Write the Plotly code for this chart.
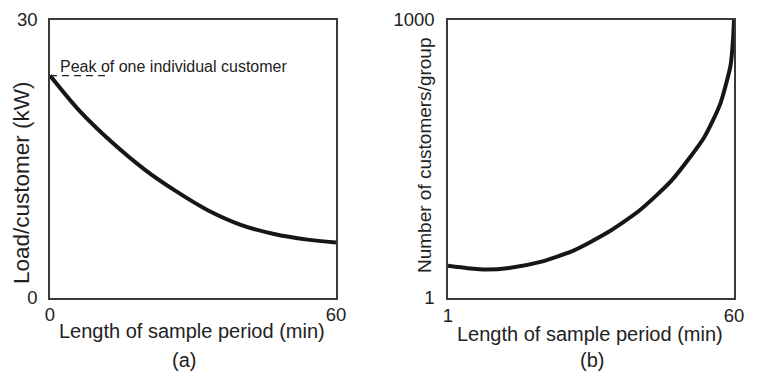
import plotly.graph_objects as go

W, H = 772, 388

# ---- data ----
# (a) Load per customer vs. sample period length
period_a = [0, 6, 13, 20, 26.5, 33, 40, 47, 54, 60]
load_a = [24.0, 20.3, 16.8, 13.8, 11.5, 9.5, 7.9, 6.9, 6.3, 6.0]
peak_individual = 24.0
peak_dash_x = [0, 12]

# (b) Number of customers per group vs. sample period length (log y)
period_b = [1, 5, 9, 13.6, 20.3, 27, 33.8, 40.5, 47.2, 53.9, 57.2, 59.3, 59.8, 60]
customers_b = [2.23, 2.1, 2.03, 2.11, 2.47, 3.27, 5.05, 8.8, 18.7, 54.7, 126, 326, 617, 1000]

xticks_a = [0, 60]
yticks_a = [0, 30]
xticks_b = [1, 60]
yticks_b = [1, 1000]

FONT = "Liberation Sans, Arial, Helvetica, sans-serif"
TXT = "#222222"
AXC = "#3a3a3a"

# panel boxes in pixels
L_X0, L_X1 = 42, 328
R_X0, R_X1 = 440, 726
Y_TOP, Y_BOT = 12, 290


def px_x(p):
    return p / W


def px_y(p):
    return 1 - p / H


fig = go.Figure()

fig.add_trace(go.Scatter(x=period_a, y=load_a, mode="lines",
                         line=dict(color="#161616", width=4, shape="spline", smoothing=0.8),
                         xaxis="x", yaxis="y", showlegend=False, hoverinfo="skip"))
fig.add_trace(go.Scatter(x=peak_dash_x, y=[peak_individual] * len(peak_dash_x), mode="lines",
                         line=dict(color="#222222", width=1.3, dash="7px,5px"),
                         xaxis="x", yaxis="y", showlegend=False, hoverinfo="skip"))
fig.add_trace(go.Scatter(x=period_b, y=customers_b, mode="lines",
                         line=dict(color="#161616", width=4, shape="spline", smoothing=0.6),
                         xaxis="x2", yaxis="y2", showlegend=False, hoverinfo="skip"))

ax_common = dict(showgrid=False, zeroline=False, showline=True, mirror=True,
                 linecolor=AXC, linewidth=1.5, ticks="", automargin=False,
                 tickfont=dict(family=FONT, size=18.5, color=TXT))

ydom = [px_y(Y_BOT), px_y(Y_TOP)]

fig.update_layout(
    width=W, height=H,
    margin=dict(l=0, r=0, t=0, b=0),
    paper_bgcolor="white", plot_bgcolor="white",
    xaxis=dict(domain=[px_x(L_X0), px_x(L_X1)], range=[0, 60], tickvals=xticks_a,
               ticktext=[str(v) for v in xticks_a], ticklabelstandoff=-1, anchor="y", **ax_common),
    yaxis=dict(domain=ydom, range=[0, 30], tickvals=yticks_a,
               ticktext=[str(v) for v in yticks_a], ticklabelstandoff=7, anchor="x", **ax_common),
    xaxis2=dict(domain=[px_x(R_X0), px_x(R_X1)], range=[1, 60], tickvals=xticks_b,
                ticktext=[str(v) for v in xticks_b], ticklabelstandoff=0, anchor="y2", **ax_common),
    yaxis2=dict(domain=ydom, type="log", range=[0, 3], tickvals=yticks_b,
                ticktext=[str(v) for v in yticks_b], ticklabelstandoff=8, anchor="x2", **ax_common),
)


def ann(text, x, y, size, angle=0):
    fig.add_annotation(text=text, x=px_x(x), y=px_y(y), xref="paper", yref="paper",
                       xanchor="center", yanchor="middle", showarrow=False, textangle=angle,
                       font=dict(family=FONT, size=size, color=TXT))


ann("Length of sample period (min)", 184, 323, 20)
ann("Length of sample period (min)", 582, 326, 20)
ann("(a)", 176, 352, 20)
ann("(b)", 584, 352, 20)
ann("Load/customer (kW)", 14, 175, 22.5, -90)
ann("Number of customers/group", 416, 147, 19, -90)

fig.add_annotation(text="Peak of one individual customer", x=1.7, y=25.0, xref="x", yref="y",
                   xanchor="left", yanchor="middle", showarrow=False,
                   font=dict(family=FONT, size=16, color=TXT))

fig.write_html("out.html")
